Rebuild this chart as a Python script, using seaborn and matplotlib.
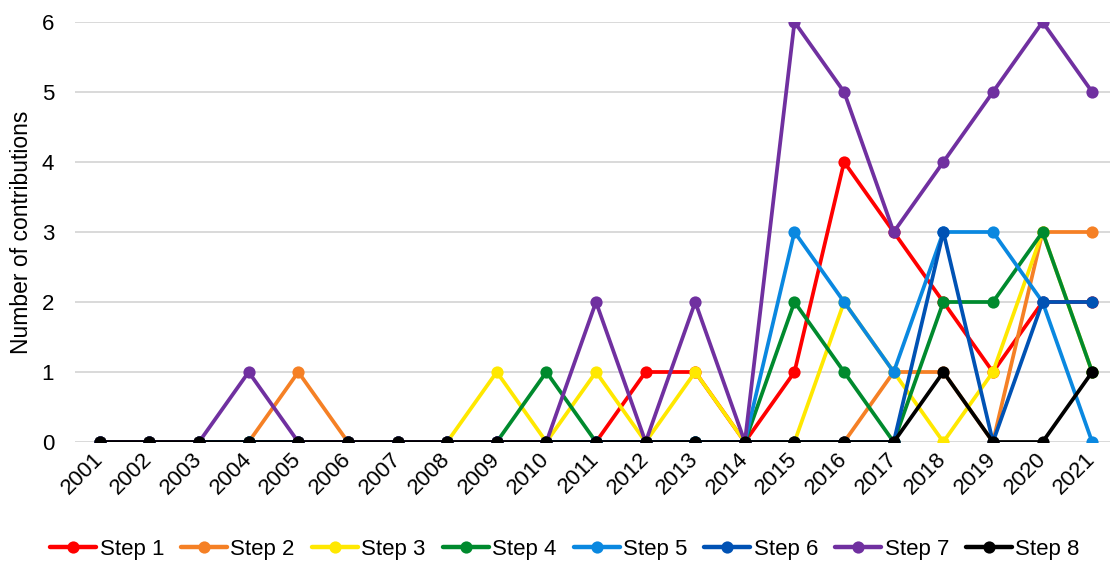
import matplotlib
matplotlib.use("Agg")
import matplotlib.pyplot as plt
from matplotlib.lines import Line2D
import seaborn as sns
import pandas as pd

years = list(range(2001, 2022))
step_names = ["Step 1", "Step 2", "Step 3", "Step 4", "Step 5", "Step 6", "Step 7", "Step 8"]

step1 = [0, 0, 0, 0, 0, 0, 0, 0, 0, 0, 0, 1, 1, 0, 1, 4, 3, 2, 1, 2, 2]
step2 = [0, 0, 0, 0, 1, 0, 0, 0, 0, 0, 0, 0, 0, 0, 0, 0, 1, 1, 0, 3, 3]
step3 = [0, 0, 0, 0, 0, 0, 0, 0, 1, 0, 1, 0, 1, 0, 0, 2, 1, 0, 1, 3, 1]
step4 = [0, 0, 0, 0, 0, 0, 0, 0, 0, 1, 0, 0, 0, 0, 2, 1, 0, 2, 2, 3, 1]
step5 = [0, 0, 0, 0, 0, 0, 0, 0, 0, 0, 0, 0, 0, 0, 3, 2, 1, 3, 3, 2, 0]
step6 = [0, 0, 0, 0, 0, 0, 0, 0, 0, 0, 0, 0, 0, 0, 0, 0, 0, 3, 0, 2, 2]
step7 = [0, 0, 0, 1, 0, 0, 0, 0, 0, 0, 2, 0, 2, 0, 6, 5, 3, 4, 5, 6, 5]
step8 = [0, 0, 0, 0, 0, 0, 0, 0, 0, 0, 0, 0, 0, 0, 0, 0, 0, 1, 0, 0, 1]

colors = ["#FF0000", "#F58025", "#FFE800", "#008A2E",
          "#0A88E0", "#0052B4", "#7030A0", "#000000"]

series = [step1, step2, step3, step4, step5, step6, step7, step8]
df = pd.concat(
    [pd.DataFrame({"year": years, "count": vals, "step": name})
     for name, vals in zip(step_names, series)],
    ignore_index=True,
)

sns.set_style("white")
plt.rcParams["font.family"] = ["Liberation Sans", "DejaVu Sans"]
plt.rcParams["text.color"] = "black"
plt.rcParams["axes.labelcolor"] = "black"
plt.rcParams["xtick.color"] = "black"
plt.rcParams["ytick.color"] = "black"

fig = plt.figure(figsize=(11.10, 5.64), dpi=100)
ax = fig.add_axes([75 / 1110, 1 - 442 / 564, (1117 - 75) / 1110, 420 / 564])

sns.lineplot(data=df, x="year", y="count", hue="step", hue_order=step_names,
             palette=colors, marker="o", markersize=8.8, markeredgewidth=0,
             linewidth=2.7, legend=False, ax=ax)

ax.set_xlim(2000.5, 2021.5)
ax.set_ylim(0, 6)
ax.set_yticks(range(0, 7))
ax.set_xticks(years)
ax.set_xticklabels([str(y) for y in years], rotation=45, ha="right",
                   va="center", rotation_mode="anchor", fontsize=16)
ax.tick_params(axis="y", labelsize=16, length=0, pad=15)
ax.tick_params(axis="x", length=0, pad=10)
ax.yaxis.grid(True, color="#D9D9D9", linewidth=1.4)
ax.set_axisbelow(True)
for s in ax.spines.values():
    s.set_visible(False)

ax.set_xlabel("")
ax.set_ylabel("Number of contributions", fontsize=16.5)
ax.yaxis.set_label_coords(-0.040, 0.5)

handles = [Line2D([0], [0], color=c, linewidth=3.2, marker="o", markersize=8.8,
                  markeredgewidth=0) for c in colors]
fig.legend(handles, step_names, loc="center", bbox_to_anchor=(0.509, 1 - 549 / 564),
           ncol=8, frameon=False, fontsize=16, handlelength=2.07,
           handletextpad=0.15, columnspacing=0.77)

fig.savefig("out.png", dpi=100)
